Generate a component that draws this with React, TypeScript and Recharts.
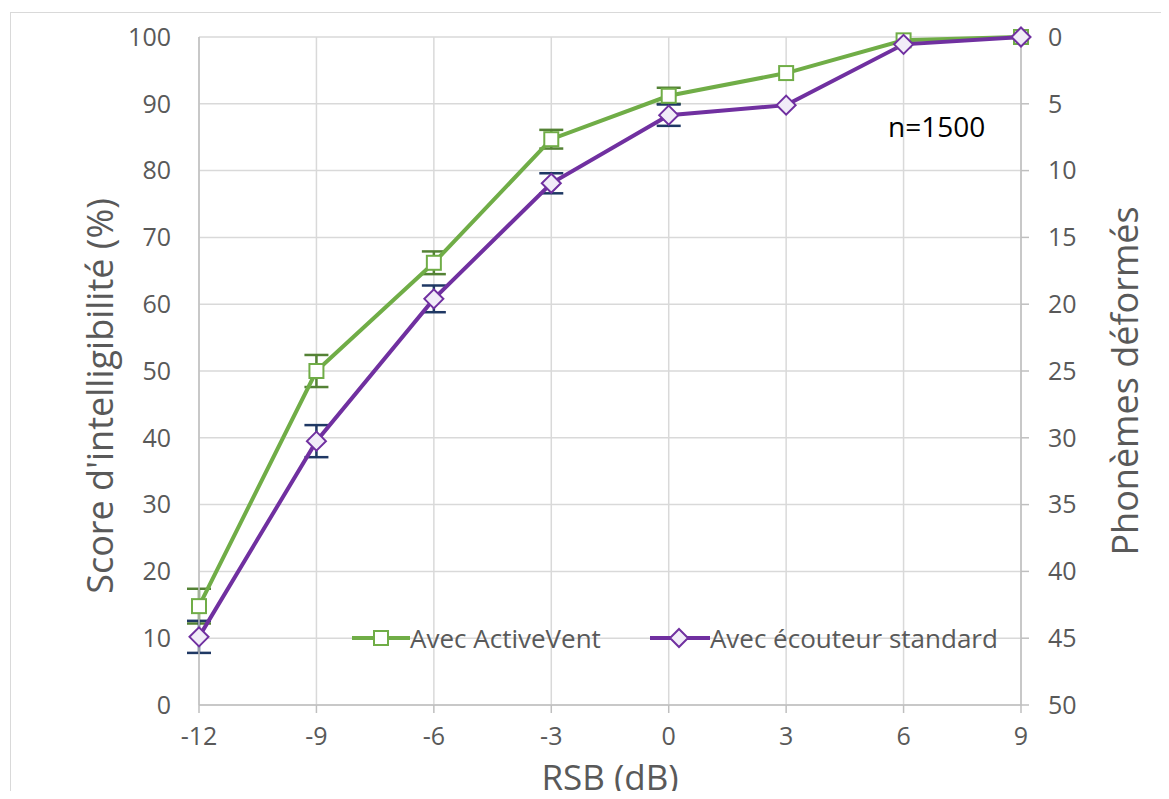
import React from 'react';
import {
  ComposedChart,
  Line,
  XAxis,
  YAxis,
  CartesianGrid,
  ErrorBar,
  Legend,
  Label
} from 'recharts';

const rsb = [-12, -9, -6, -3, 0, 3, 6, 9];
const activeVent = [14.8, 50.0, 66.2, 84.7, 91.2, 94.6, 99.5, 100];
const activeVentErr = [2.6, 2.4, 1.7, 1.4, 1.2, 0, 0, 0];
const standard = [10.2, 39.5, 60.8, 78.1, 88.3, 89.8, 98.9, 100];
const standardErr = [2.4, 2.4, 2.0, 1.5, 1.6, 0, 0, 0];

const xTicks = [-12, -9, -6, -3, 0, 3, 6, 9];
const scoreTicks = [0, 10, 20, 30, 40, 50, 60, 70, 80, 90, 100];
const phonemeTicks = [0, 5, 10, 15, 20, 25, 30, 35, 40, 45, 50];

const data = rsb.map((x, i) => ({
  x,
  active: activeVent[i],
  activeErr: activeVentErr[i],
  standard: standard[i],
  standardErr: standardErr[i],
}));

const FONT = '"Open Sans", sans-serif';
const GREEN = '#70ad47';
const PURPLE = '#7030a0';
const TEXT = '#595959';

const tickStyle = { fill: TEXT, fontSize: 25, fontFamily: FONT };

const squareDot = (props: any) => {
  const { cx, cy, index } = props;
  return (
    <rect key={`sq-${index}`} x={cx - 7} y={cy - 7} width={14} height={14}
      fill="#fff" stroke={GREEN} strokeWidth={2} />
  );
};

const diamondDot = (props: any) => {
  const { cx, cy, index } = props;
  const r = 9.5;
  return (
    <path key={`di-${index}`}
      d={`M${cx},${cy - r}L${cx + r},${cy}L${cx},${cy + r}L${cx - r},${cy}Z`}
      fill="#f1ecf8" stroke={PURPLE} strokeWidth={2} />
  );
};

const LegendContent = () => (
  <div style={{ display: 'flex', alignItems: 'center', gap: 49, fontFamily: FONT, fontSize: 26, color: TEXT, lineHeight: '30px', whiteSpace: 'nowrap' }}>
    <div style={{ display: 'flex', alignItems: 'center' }}>
      <svg width={58} height={22}>
        <line x1={0} y1={11} x2={58} y2={11} stroke={GREEN} strokeWidth={4} />
        <rect x={22} y={4} width={14} height={14} fill="#fff" stroke={GREEN} strokeWidth={2} />
      </svg>
      <span>Avec ActiveVent</span>
    </div>
    <div style={{ display: 'flex', alignItems: 'center' }}>
      <svg width={60} height={22}>
        <line x1={0} y1={11} x2={60} y2={11} stroke={PURPLE} strokeWidth={4} />
        <path d="M29,2L38,11L29,20L20,11Z" fill="#f1ecf8" stroke={PURPLE} strokeWidth={2} />
      </svg>
      <span>Avec écouteur standard</span>
    </div>
  </div>
);

export default function App() {
  return (
    <div style={{ position: 'relative', width: 1153, height: 783 }}>
      <div style={{ position: 'absolute', left: 2, top: 4, width: 1159, height: 787, borderTop: '1.5px solid #d9d9d9', borderLeft: '1.5px solid #d9d9d9', boxSizing: 'border-box' }} />
      <div style={{ position: 'absolute', left: 0, top: 0 }}>
        <ComposedChart width={1153} height={791} data={data} margin={{ top: 29, right: 0, left: 0, bottom: 8 }}>
          <CartesianGrid stroke="#d9d9d9" strokeWidth={1.5} />
          <XAxis
            dataKey="x"
            type="number"
            domain={[-12, 9]}
            ticks={xTicks}
            height={86}
            tick={tickStyle}
            tickSize={8}
            tickMargin={14}
            stroke="#bfbfbf"
            strokeWidth={1.5}
          >
            <Label
              content={({ viewBox }: any) => (
                <text x={viewBox.x + viewBox.width / 2} y={782} textAnchor="middle"
                  fill={TEXT} fontSize={35} fontFamily={FONT}>RSB (dB)</text>
              )}
            />
          </XAxis>
          <YAxis
            domain={[0, 100]}
            ticks={scoreTicks}
            width={191}
            tick={tickStyle}
            tickLine={false}
            tickSize={8}
            tickMargin={20}
            stroke="#bfbfbf"
            strokeWidth={1.5}
          >
            <Label
              content={() => (
                <text x={105} y={388} textAnchor="middle" transform="rotate(-90, 105, 388)"
                  fill={TEXT} fontSize={36} fontFamily={FONT}>Score d'intelligibilité (%)</text>
              )}
            />
          </YAxis>
          <YAxis
            yAxisId="right"
            orientation="right"
            domain={[0, 50]}
            reversed
            allowDataOverflow
            ticks={phonemeTicks}
            width={140}
            tick={tickStyle}
            tickSize={8}
            tickMargin={19}
            stroke="#bfbfbf"
            strokeWidth={1.5}
          >
            <Label
              content={() => (
                <text x={1130} y={373} textAnchor="middle" transform="rotate(-90, 1130, 373)"
                  fill={TEXT} fontSize={36} fontFamily={FONT}>Phonèmes déformés</text>
              )}
            />
          </YAxis>
          <Legend
            layout="horizontal"
            verticalAlign="middle"
            align="center"
            content={<LegendContent />}
            wrapperStyle={{ position: 'absolute', left: 344, top: 615, width: 'auto' }}
          />
          <Line
            yAxisId="right"
            dataKey="active"
            stroke="none"
            dot={false}
            activeDot={false}
            legendType="none"
            isAnimationActive={false}
          />
          <Line
            dataKey="active"
            stroke={GREEN}
            strokeWidth={4}
            dot={squareDot}
            activeDot={false}
            isAnimationActive={false}
          >
            <ErrorBar dataKey="activeErr" width={12} strokeWidth={2.5} stroke="#548235" direction="y" />
          </Line>
          <Line
            dataKey="standard"
            stroke={PURPLE}
            strokeWidth={4}
            dot={diamondDot}
            activeDot={false}
            isAnimationActive={false}
          >
            <ErrorBar dataKey="standardErr" width={12} strokeWidth={2.5} stroke="#1f3864" direction="y" />
          </Line>
        </ComposedChart>
      </div>
      <div style={{ position: 'absolute', left: 880, top: 100, fontFamily: FONT, fontSize: 28, color: '#000', lineHeight: '36px' }}>
        n=1500
      </div>
    </div>
  );
}
